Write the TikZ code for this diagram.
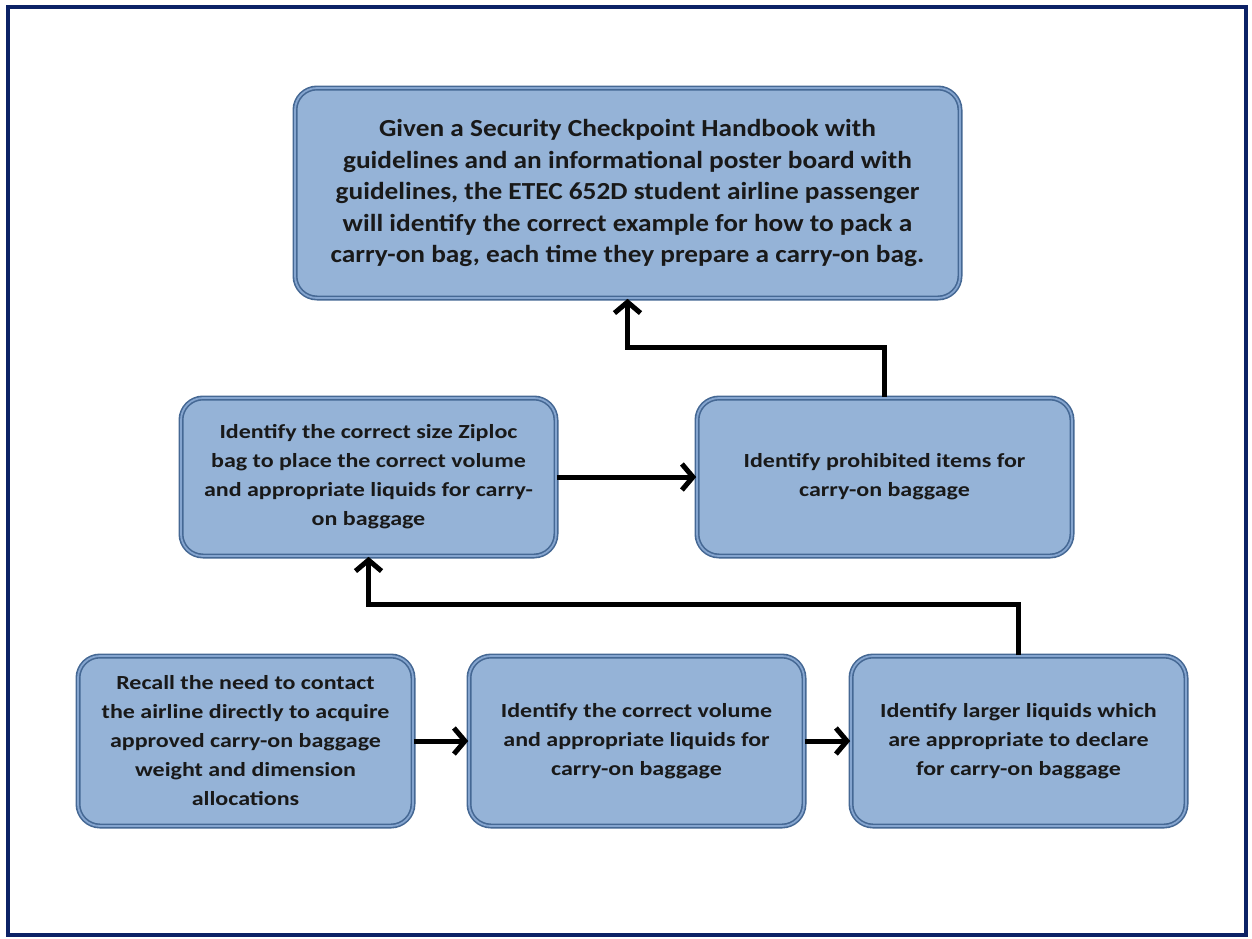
\documentclass[tikz,border=0pt]{standalone}
\usepackage{fontspec}
\setmainfont{Carlito}
\newfontfamily\bigwide[FakeStretch=1.115]{Carlito}
\newfontfamily\smallwide[FakeStretch=1.2]{Carlito}
\usetikzlibrary{arrows.meta}
\definecolor{frame}{HTML}{0C2266}
\definecolor{boxfill}{HTML}{95B3D7}
\definecolor{boxedge}{HTML}{456894}
\definecolor{boxband}{HTML}{85A5CF}
\tikzset{
  fbox/.style={draw=boxedge, double=boxband, line width=1.6pt, double distance=1.8pt,
    fill=boxfill, rounded corners=22pt, align=center, text=black!90,
    font=\smallwide\bfseries\fontsize{20}{29}\selectfont, inner sep=0pt},
  arr/.style={line width=5pt, black, -{Straight Barb[length=11pt,width=26pt,line width=5pt]}},
}
\begin{document}
\begin{tikzpicture}[x=1pt,y=-1pt]
\useasboundingbox (0,0) rectangle (1252,938);
\fill[white] (0,0) rectangle (1252,938);
\draw[frame, line width=4pt] (8,7) rectangle (1246,935);

\node[fbox, minimum width=665pt, minimum height=210pt, font=\bigwide\bfseries\fontsize{24.5}{31.5}\selectfont] (top) at (627.5,193)
  {Given a Security Checkpoint Handbook with\\guidelines and an informational poster board with\\guidelines, the ETEC 652D student airline passenger\\will identify the correct example for how to pack a\\carry-on bag, each time they prepare a carry-on bag.};

\node[fbox, minimum width=375pt, minimum height=158pt] (ml) at (368.5,477)
  {Identify the correct size Ziploc\\bag to place the correct volume\\and appropriate liquids for carry-\\on baggage};
\node[fbox, minimum width=375pt, minimum height=158pt] (mr) at (884.5,477)
  {Identify prohibited items for\\carry-on baggage};

\node[fbox, minimum width=335pt, minimum height=170pt] (bl) at (245.5,741)
  {Recall the need to contact\\the airline directly to acquire\\approved carry-on baggage\\weight and dimension\\allocations};
\node[fbox, minimum width=335pt, minimum height=170pt] (bm) at (636.5,741)
  {Identify the correct volume\\and appropriate liquids for\\carry-on baggage};
\node[fbox, minimum width=335pt, minimum height=170pt] (br) at (1018.5,741)
  {Identify larger liquids which\\are appropriate to declare\\for carry-on baggage};

\draw[arr] (mr.north) -- ++(0,-50) -| (top.south);
\draw[arr] (ml.east) -- (mr.west);
\draw[arr] (br.north) -- ++(0,-51) -| (ml.south);
\draw[arr] (bl.east) -- (bm.west);
\draw[arr] (bm.east) -- (br.west);
\end{tikzpicture}
\end{document}
